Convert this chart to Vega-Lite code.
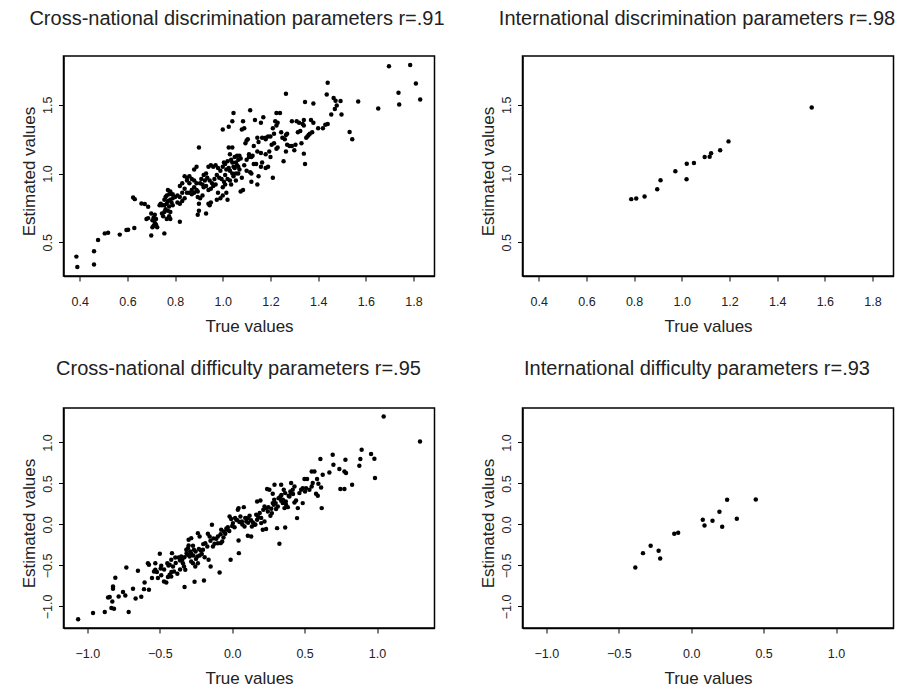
{
  "$schema": "https://vega.github.io/schema/vega-lite/v6.json",
  "background": "white",
  "padding": {"left": 19.5, "top": 8, "right": 0, "bottom": 0},
  "datasets": {
    "cross_disc": [
      {"truth":1.697,"est":1.78},{"truth":1.786,"est":1.79},{"truth":1.81,"est":1.655},{"truth":1.737,"est":1.587},{"truth":1.74,"est":1.502},{"truth":1.828,"est":1.539},{"truth":1.652,"est":1.473},{"truth":1.568,"est":1.524},{"truth":1.532,"est":1.302},{"truth":1.543,"est":1.249},{"truth":1.498,"est":1.43},{"truth":1.494,"est":1.527},{"truth":1.478,"est":1.495},{"truth":1.47,"est":1.47},{"truth":1.465,"est":1.55},{"truth":1.473,"est":1.53},{"truth":1.455,"est":1.43},{"truth":1.44,"est":1.66},{"truth":1.436,"est":1.575},{"truth":1.43,"est":1.355},{"truth":1.44,"est":1.36},{"truth":1.42,"est":1.33},{"truth":1.40,"est":1.33},
      {"truth":1.38,"est":1.51},{"truth":1.345,"est":1.52},{"truth":1.37,"est":1.39},{"truth":1.38,"est":1.37},{"truth":1.375,"est":1.30},{"truth":1.365,"est":1.29},{"truth":1.355,"est":1.27},{"truth":1.35,"est":1.26},{"truth":1.36,"est":1.28},{"truth":1.34,"est":1.39},{"truth":1.335,"est":1.36},{"truth":1.32,"est":1.37},{"truth":1.31,"est":1.38},{"truth":1.325,"est":1.31},{"truth":1.315,"est":1.30},{"truth":1.34,"est":1.35},{"truth":1.33,"est":1.22},{"truth":1.34,"est":1.145},{"truth":1.345,"est":1.07},{"truth":1.305,"est":1.21},{"truth":1.29,"est":1.38},{"truth":1.30,"est":1.17},{"truth":1.29,"est":1.20},{"truth":1.28,"est":1.20},{"truth":1.27,"est":1.21},
      {"truth":1.265,"est":1.58},{"truth":1.24,"est":1.44},{"truth":1.225,"est":1.44},{"truth":1.22,"est":1.38},{"truth":1.23,"est":1.37},{"truth":1.225,"est":1.35},{"truth":1.21,"est":1.33},{"truth":1.215,"est":1.29},{"truth":1.20,"est":1.27},{"truth":1.205,"est":1.21},{"truth":1.215,"est":1.22},{"truth":1.225,"est":1.18},{"truth":1.23,"est":1.19},{"truth":1.255,"est":1.09},{"truth":1.21,"est":0.97},{"truth":1.265,"est":1.28},{"truth":1.27,"est":1.29},{"truth":1.265,"est":1.16},{"truth":1.245,"est":1.30},{"truth":1.25,"est":1.26},{"truth":1.26,"est":1.25},{"truth":1.19,"est":1.27},{"truth":1.18,"est":1.26},
      {"truth":1.115,"est":1.46},{"truth":1.17,"est":1.41},{"truth":1.16,"est":1.37},{"truth":1.135,"est":1.39},{"truth":1.18,"est":1.25},{"truth":1.165,"est":1.26},{"truth":1.15,"est":1.23},{"truth":1.145,"est":1.26},{"truth":1.13,"est":1.20},{"truth":1.145,"est":1.16},{"truth":1.16,"est":1.15},{"truth":1.18,"est":1.14},{"truth":1.195,"est":1.16},{"truth":1.20,"est":1.12},{"truth":1.19,"est":1.05},{"truth":1.18,"est":1.04},{"truth":1.165,"est":1.08},{"truth":1.16,"est":1.05},{"truth":1.15,"est":0.98},{"truth":1.145,"est":0.92},{"truth":1.12,"est":0.94},{"truth":1.13,"est":1.07},{"truth":1.14,"est":1.07},{"truth":1.125,"est":1.13},{"truth":1.11,"est":1.14},{"truth":1.10,"est":1.24},{"truth":1.105,"est":1.25},{"truth":1.095,"est":1.22},{"truth":1.11,"est":1.12},{"truth":1.12,"est":1.12},{"truth":1.10,"est":1.10},{"truth":1.09,"est":1.06},{"truth":1.10,"est":1.02},{"truth":1.115,"est":1.01},{"truth":1.12,"est":1.00},
      {"truth":1.045,"est":1.44},{"truth":1.04,"est":1.38},{"truth":1.025,"est":1.34},{"truth":1.085,"est":1.38},{"truth":1.09,"est":1.33},{"truth":1.08,"est":1.32},{"truth":1.00,"est":1.32},{"truth":1.04,"est":1.19},{"truth":1.025,"est":1.19},{"truth":1.03,"est":1.14},{"truth":1.05,"est":1.12},{"truth":1.06,"est":1.13},{"truth":1.065,"est":1.10},{"truth":1.07,"est":1.13},{"truth":1.075,"est":1.11},{"truth":1.055,"est":1.08},{"truth":1.06,"est":1.06},{"truth":1.045,"est":1.05},{"truth":1.04,"est":1.08},{"truth":1.035,"est":1.10},{"truth":1.02,"est":1.09},{"truth":1.01,"est":1.07},{"truth":1.00,"est":1.05},{"truth":1.005,"est":1.08},{"truth":1.015,"est":1.03},{"truth":1.025,"est":1.04},{"truth":1.03,"est":1.02},{"truth":1.04,"est":1.00},{"truth":1.05,"est":1.04},{"truth":1.07,"est":1.03},{"truth":1.065,"est":1.00},{"truth":1.08,"est":0.97},{"truth":1.085,"est":0.88},{"truth":1.075,"est":0.87},{"truth":1.055,"est":0.95},{"truth":1.045,"est":0.98},{"truth":1.03,"est":0.95},{"truth":1.02,"est":0.96},{"truth":1.01,"est":0.92},{"truth":1.00,"est":0.90},{"truth":1.005,"est":0.94},{"truth":0.995,"est":0.96},{"truth":1.01,"est":0.99},{"truth":1.015,"est":0.86},{"truth":1.00,"est":0.84},{"truth":1.02,"est":0.81},{"truth":0.99,"est":0.82},{"truth":1.035,"est":0.92},{"truth":1.055,"est":1.00},{"truth":1.065,"est":1.05},
      {"truth":0.96,"est":1.05},{"truth":0.97,"est":1.06},{"truth":0.98,"est":1.04},{"truth":0.99,"est":1.02},{"truth":0.95,"est":1.06},{"truth":0.94,"est":1.05},{"truth":0.93,"est":1.00},{"truth":0.92,"est":0.99},{"truth":0.935,"est":0.97},{"truth":0.945,"est":0.95},{"truth":0.955,"est":0.93},{"truth":0.965,"est":0.96},{"truth":0.975,"est":0.99},{"truth":0.985,"est":0.97},{"truth":0.925,"est":0.95},{"truth":0.91,"est":0.96},{"truth":0.905,"est":0.93},{"truth":0.915,"est":0.92},{"truth":0.92,"est":0.90},{"truth":0.93,"est":0.91},{"truth":0.94,"est":0.88},{"truth":0.95,"est":0.89},{"truth":0.96,"est":0.91},{"truth":0.97,"est":0.92},{"truth":0.98,"est":0.86},{"truth":0.975,"est":0.81},{"truth":0.95,"est":0.79},{"truth":0.945,"est":0.77},{"truth":0.94,"est":0.78},{"truth":0.93,"est":0.71},{"truth":0.90,"est":0.73},{"truth":0.895,"est":0.70},{"truth":0.915,"est":0.84},{"truth":0.905,"est":0.82},{"truth":0.90,"est":0.78},{"truth":0.895,"est":0.83},{"truth":0.90,"est":1.19},
      {"truth":0.88,"est":1.03},{"truth":0.89,"est":1.05},{"truth":0.86,"est":0.98},{"truth":0.85,"est":0.97},{"truth":0.84,"est":0.98},{"truth":0.87,"est":0.96},{"truth":0.88,"est":0.95},{"truth":0.89,"est":0.93},{"truth":0.86,"est":0.93},{"truth":0.85,"est":0.95},{"truth":0.83,"est":0.93},{"truth":0.82,"est":0.91},{"truth":0.84,"est":0.89},{"truth":0.87,"est":0.88},{"truth":0.88,"est":0.86},{"truth":0.89,"est":0.88},{"truth":0.86,"est":0.86},{"truth":0.85,"est":0.86},{"truth":0.83,"est":0.86},{"truth":0.82,"est":0.83},{"truth":0.81,"est":0.84},{"truth":0.80,"est":0.83},{"truth":0.81,"est":0.79},{"truth":0.82,"est":0.78},{"truth":0.83,"est":0.80},{"truth":0.84,"est":0.82},{"truth":0.82,"est":0.65},{"truth":0.87,"est":0.85},{"truth":0.88,"est":0.90},{"truth":0.895,"est":0.87},
      {"truth":0.79,"est":0.85},{"truth":0.78,"est":0.87},{"truth":0.77,"est":0.88},{"truth":0.775,"est":0.85},{"truth":0.765,"est":0.84},{"truth":0.76,"est":0.83},{"truth":0.755,"est":0.81},{"truth":0.77,"est":0.80},{"truth":0.78,"est":0.81},{"truth":0.79,"est":0.82},{"truth":0.785,"est":0.79},{"truth":0.79,"est":0.77},{"truth":0.775,"est":0.76},{"truth":0.765,"est":0.78},{"truth":0.755,"est":0.77},{"truth":0.745,"est":0.77},{"truth":0.74,"est":0.78},{"truth":0.735,"est":0.77},{"truth":0.76,"est":0.74},{"truth":0.77,"est":0.73},{"truth":0.78,"est":0.72},{"truth":0.775,"est":0.69},{"truth":0.765,"est":0.67},{"truth":0.755,"est":0.72},{"truth":0.745,"est":0.71},{"truth":0.75,"est":0.69},{"truth":0.715,"est":0.70},{"truth":0.71,"est":0.68},{"truth":0.72,"est":0.67},{"truth":0.705,"est":0.66},{"truth":0.70,"est":0.71},{"truth":0.715,"est":0.64},{"truth":0.71,"est":0.62},{"truth":0.705,"est":0.61},{"truth":0.72,"est":0.63},{"truth":0.725,"est":0.61},{"truth":0.70,"est":0.55},{"truth":0.755,"est":0.565},{"truth":0.78,"est":0.67},
      {"truth":0.687,"est":0.758},{"truth":0.68,"est":0.669},{"truth":0.687,"est":0.676},{"truth":0.673,"est":0.778},{"truth":0.659,"est":0.783},{"truth":0.631,"est":0.814},{"truth":0.624,"est":0.826},{"truth":0.629,"est":0.604},{"truth":0.603,"est":0.592},{"truth":0.596,"est":0.589},{"truth":0.568,"est":0.556},{"truth":0.519,"est":0.57},{"truth":0.505,"est":0.565},{"truth":0.477,"est":0.517},{"truth":0.46,"est":0.435},{"truth":0.46,"est":0.338},{"truth":0.386,"est":0.396},{"truth":0.39,"est":0.32}
    ],
    "intl_disc": [
      {"truth":0.788,"est":0.814},{"truth":0.809,"est":0.819},{"truth":0.844,"est":0.833},{"truth":0.897,"est":0.886},{"truth":0.911,"est":0.952},{"truth":0.973,"est":1.017},{"truth":1.02,"est":0.959},{"truth":1.021,"est":1.072},{"truth":1.051,"est":1.077},{"truth":1.096,"est":1.121},{"truth":1.117,"est":1.123},{"truth":1.123,"est":1.147},{"truth":1.161,"est":1.169},{"truth":1.196,"est":1.234},{"truth":1.545,"est":1.481}
    ],
    "cross_diff": [
      {"truth":-1.064,"est":-1.155},{"truth":-0.961,"est":-1.081},{"truth":-0.88,"est":-1.069},{"truth":-0.857,"est":-0.89},{"truth":-0.846,"est":-0.886},{"truth":-0.834,"est":-1.02},{"truth":-0.816,"est":-1.028},{"truth":-0.828,"est":-0.939},{"truth":-0.823,"est":-0.756},{"truth":-0.823,"est":-0.785},{"truth":-0.807,"est":-0.65},{"truth":-0.784,"est":-0.878},{"truth":-0.754,"est":-0.825},{"truth":-0.738,"est":-0.866},{"truth":-0.731,"est":-0.524},{"truth":-0.715,"est":-1.069},{"truth":-0.685,"est":-0.785},{"truth":-0.667,"est":-0.902},{"truth":-0.651,"est":-0.565},{"truth":-0.628,"est":-0.882},{"truth":-0.609,"est":-0.789},{"truth":-0.605,"est":-0.707},{"truth":-0.575,"est":-0.797},{"truth":-0.582,"est":-0.472},{"truth":-0.575,"est":-0.492},{"truth":-0.554,"est":-0.654},{"truth":-0.54,"est":-0.573},{"truth":-0.531,"est":-0.553},{"truth":-0.531,"est":-0.472},{"truth":-0.513,"est":-0.654},{"truth":-0.5,"est":-0.358},{"truth":-0.494,"est":-0.537},{"truth":-0.49,"est":-0.504},{"truth":-0.471,"est":-0.695},{"truth":-0.455,"est":-0.707},{"truth":-0.444,"est":-0.642},{"truth":-0.432,"est":-0.614},{"truth":-0.421,"est":-0.634},{"truth":-0.448,"est":-0.472},{"truth":-0.432,"est":-0.492},{"truth":-0.421,"est":-0.431},{"truth":-0.416,"est":-0.35},{"truth":-0.409,"est":-0.512},{"truth":-0.402,"est":-0.573},{"truth":-0.393,"est":-0.402},{"truth":-0.379,"est":-0.602},{"truth":-0.37,"est":-0.402},{"truth":-0.352,"est":-0.39},{"truth":-0.34,"est":-0.472},{"truth":-0.333,"est":-0.512},{"truth":-0.329,"est":-0.764},{"truth":-0.324,"est":-0.553},{"truth":-0.317,"est":-0.309},{"truth":-0.306,"est":-0.289},{"truth":-0.301,"est":-0.256},{"truth":-0.31,"est":-0.37},{"truth":-0.294,"est":-0.39},{"truth":-0.283,"est":-0.358},{"truth":-0.301,"est":-0.187},{"truth":-0.283,"est":-0.167},{"truth":-0.271,"est":-0.26},{"truth":-0.264,"est":-0.309},{"truth":-0.253,"est":-0.329},{"truth":-0.283,"est":-0.451},{"truth":-0.271,"est":-0.472},{"truth":-0.26,"est":-0.699},{"truth":-0.255,"est":-0.512},{"truth":-0.237,"est":-0.472},{"truth":-0.241,"est":-0.39},{"truth":-0.225,"est":-0.378},{"truth":-0.218,"est":-0.317},{"truth":-0.202,"est":-0.309},{"truth":-0.237,"est":-0.106},{"truth":-0.225,"est":-0.146},{"truth":-0.195,"est":-0.683},{"truth":-0.186,"est":-0.228},{"truth":-0.172,"est":-0.268},{"truth":-0.168,"est":-0.114},{"truth":-0.156,"est":-0.146},{"truth":-0.163,"est":-0.431},{"truth":-0.149,"est":-0.512},{"truth":-0.14,"est":-0.004},{"truth":-0.133,"est":-0.268},{"truth":-0.122,"est":-0.236},{"truth":-0.11,"est":-0.175},{"truth":-0.099,"est":-0.146},{"truth":-0.087,"est":-0.585},{"truth":-0.08,"est":-0.228},{"truth":-0.069,"est":-0.207},{"truth":-0.076,"est":-0.065},{"truth":-0.057,"est":-0.085},{"truth":-0.048,"est":-0.114},{"truth":-0.034,"est":-0.065},{"truth":-0.03,"est":-0.033},{"truth":-0.011,"est":-0.431},{"truth":-0.018,"est":0.098},{"truth":-0.007,"est":0.065},{"truth":0.005,"est":0.016},{"truth":0.016,"est":-0.033},{"truth":0.028,"est":0.057},{"truth":0.039,"est":0.179},{"truth":0.044,"est":0.199},{"truth":0.044,"est":-0.195},{"truth":0.046,"est":-0.35},{"truth":0.057,"est":0.098},{"truth":0.067,"est":0.037},{"truth":0.08,"est":0.211},{"truth":0.085,"est":-0.024},{"truth":0.097,"est":0.037},{"truth":0.108,"est":0.077},{"truth":0.12,"est":0.106},{"truth":0.108,"est":-0.138},{"truth":0.131,"est":-0.146},{"truth":0.136,"est":-0.024},{"truth":0.143,"est":0.024},{"truth":0.154,"est":-0.004},{"truth":0.166,"est":0.118},{"truth":0.172,"est":0.057},{"truth":0.172,"est":0.28},{"truth":0.195,"est":0.293},{"truth":0.2,"est":0.016},{"truth":0.223,"est":0.037},{"truth":0.211,"est":-0.065},{"truth":0.234,"est":-0.057},{"truth":0.223,"est":0.22},{"truth":0.234,"est":0.199},{"truth":0.246,"est":0.159},{"truth":0.241,"est":0.431},{"truth":0.257,"est":0.423},{"truth":0.264,"est":0.106},{"truth":0.274,"est":0.138},{"truth":0.28,"est":0.26},{"truth":0.287,"est":0.24},{"truth":0.28,"est":0.374},{"truth":0.292,"est":0.484},{"truth":0.303,"est":0.187},{"truth":0.315,"est":0.22},{"truth":0.31,"est":-0.045},{"truth":0.326,"est":-0.236},{"truth":0.333,"est":0.341},{"truth":0.338,"est":0.289},{"truth":0.349,"est":0.26},{"truth":0.338,"est":0.484},{"truth":0.356,"est":0.423},{"truth":0.366,"est":0.382},{"truth":0.361,"est":0.199},{"truth":0.372,"est":0.24},{"truth":0.384,"est":0.211},{"truth":0.366,"est":-0.037},{"truth":0.395,"est":0.341},{"truth":0.402,"est":0.402},{"truth":0.407,"est":0.382},{"truth":0.407,"est":0.504},{"truth":0.418,"est":0.423},{"truth":0.43,"est":0.463},{"truth":0.43,"est":0.268},{"truth":0.441,"est":0.293},{"truth":0.448,"est":0.077},{"truth":0.453,"est":0.199},{"truth":0.464,"est":0.382},{"truth":0.476,"est":0.423},{"truth":0.487,"est":0.443},{"truth":0.487,"est":0.26},{"truth":0.503,"est":0.402},{"truth":0.51,"est":0.443},{"truth":0.499,"est":0.553},{"truth":0.517,"est":0.553},{"truth":0.533,"est":0.423},{"truth":0.549,"est":0.463},{"truth":0.556,"est":0.504},{"truth":0.549,"est":0.646},{"truth":0.568,"est":0.646},{"truth":0.579,"est":0.374},{"truth":0.591,"est":0.35},{"truth":0.586,"est":0.553},{"truth":0.595,"est":0.496},{"truth":0.609,"est":0.797},{"truth":0.614,"est":0.451},{"truth":0.618,"est":0.199},{"truth":0.625,"est":0.606},{"truth":0.671,"est":0.634},{"truth":0.694,"est":0.85},{"truth":0.699,"est":0.728},{"truth":0.74,"est":0.675},{"truth":0.747,"est":0.431},{"truth":0.775,"est":0.431},{"truth":0.775,"est":0.646},{"truth":0.786,"est":0.626},{"truth":0.782,"est":0.789},{"truth":0.828,"est":0.484},{"truth":0.878,"est":0.715},{"truth":0.885,"est":0.797},{"truth":0.894,"est":0.911},{"truth":0.959,"est":0.858},{"truth":0.982,"est":0.801},{"truth":0.986,"est":0.565},{"truth":1.046,"est":1.317},{"truth":1.297,"est":1.012},
      {"truth":-0.345,"est":-0.43},{"truth":-0.33,"est":-0.40},{"truth":-0.315,"est":-0.35},{"truth":-0.29,"est":-0.33},{"truth":-0.27,"est":-0.38},{"truth":-0.25,"est":-0.42},{"truth":-0.23,"est":-0.30},{"truth":-0.21,"est":-0.36},{"truth":-0.19,"est":-0.40},{"truth":-0.20,"est":-0.24},{"truth":-0.15,"est":-0.20},{"truth":-0.13,"est":-0.17},{"truth":-0.10,"est":-0.23},{"truth":-0.08,"est":-0.12},{"truth":-0.06,"est":-0.16},{"truth":-0.04,"est":-0.05},{"truth":-0.02,"est":-0.08},{"truth":0.0,"est":-0.02},{"truth":0.02,"est":0.08},{"truth":0.035,"est":0.05},{"truth":0.05,"est":0.03},{"truth":0.07,"est":0.0},{"truth":0.09,"est":0.08},{"truth":0.11,"est":0.02},{"truth":0.13,"est":0.05},{"truth":0.16,"est":0.0},{"truth":0.18,"est":0.09},{"truth":0.19,"est":0.14},{"truth":0.20,"est":0.08},{"truth":0.215,"est":0.18},{"truth":0.25,"est":0.21},{"truth":0.27,"est":0.19},{"truth":0.29,"est":0.30},{"truth":0.30,"est":0.26},{"truth":0.32,"est":0.32},{"truth":0.34,"est":0.36},{"truth":0.35,"est":0.30},{"truth":0.37,"est":0.28},{"truth":0.39,"est":0.35},{"truth":0.42,"est":0.37},{"truth":-0.52,"est":-0.58},{"truth":-0.49,"est":-0.62},{"truth":-0.47,"est":-0.55},{"truth":-0.44,"est":-0.50},{"truth":-0.42,"est":-0.58},{"truth":-0.39,"est":-0.47},{"truth":-0.36,"est":-0.44},{"truth":-0.36,"est":-0.55}
    ],
    "intl_diff": [
      {"truth":-0.386,"est":-0.524},{"truth":-0.333,"est":-0.35},{"truth":-0.28,"est":-0.26},{"truth":-0.225,"est":-0.321},{"truth":-0.214,"est":-0.415},{"truth":-0.117,"est":-0.114},{"truth":-0.09,"est":-0.102},{"truth":0.08,"est":0.057},{"truth":0.092,"est":-0.012},{"truth":0.147,"est":0.045},{"truth":0.195,"est":0.154},{"truth":0.214,"est":-0.028},{"truth":0.248,"est":0.301},{"truth":0.315,"est":0.069},{"truth":0.446,"est":0.305}
    ]
  },
  "concat": [
    {
      "title": {"text": "Cross-national discrimination parameters r=.91", "offset": 27, "dx": -12},
      "width": 371, "height": 220,
      "data": {"name": "cross_disc"},
      "mark": {"type": "circle", "size": 20, "color": "black", "opacity": 1},
      "encoding": {
        "x": {"field": "truth", "type": "quantitative", "scale": {"domain": [0.332, 1.888], "nice": false, "zero": false}, "axis": {"values": [0.4, 0.6, 0.8, 1.0, 1.2, 1.4, 1.6, 1.8], "format": ".1f", "title": "True values"}},
        "y": {"field": "est", "type": "quantitative", "scale": {"domain": [0.255, 1.855], "nice": false, "zero": false}, "axis": {"values": [0.5, 1.0, 1.5], "format": ".1f", "title": "Estimated values"}}
      }
    },
    {
      "title": {"text": "International discrimination parameters r=.98", "offset": 27, "dx": -11},
      "width": 371, "height": 220,
      "data": {"name": "intl_disc"},
      "mark": {"type": "circle", "size": 20, "color": "black", "opacity": 1},
      "encoding": {
        "x": {"field": "truth", "type": "quantitative", "scale": {"domain": [0.332, 1.888], "nice": false, "zero": false}, "axis": {"values": [0.4, 0.6, 0.8, 1.0, 1.2, 1.4, 1.6, 1.8], "format": ".1f", "title": "True values"}},
        "y": {"field": "est", "type": "quantitative", "scale": {"domain": [0.255, 1.855], "nice": false, "zero": false}, "axis": {"values": [0.5, 1.0, 1.5], "format": ".1f", "title": "Estimated values"}}
      }
    },
    {
      "title": {"text": "Cross-national difficulty parameters r=.95", "offset": 29, "dx": -10.5},
      "width": 371, "height": 220,
      "data": {"name": "cross_diff"},
      "mark": {"type": "circle", "size": 20, "color": "black", "opacity": 1},
      "encoding": {
        "x": {"field": "truth", "type": "quantitative", "scale": {"domain": [-1.165, 1.397], "nice": false, "zero": false}, "axis": {"values": [-1.0, -0.5, 0.0, 0.5, 1.0], "format": ".1f", "title": "True values"}},
        "y": {"field": "est", "type": "quantitative", "scale": {"domain": [-1.263, 1.42], "nice": false, "zero": false}, "axis": {"values": [-1.0, -0.5, 0.0, 0.5, 1.0], "format": ".1f", "title": "Estimated values"}}
      }
    },
    {
      "title": {"text": "International difficulty parameters r=.93", "offset": 29, "dx": -11},
      "width": 371, "height": 220,
      "data": {"name": "intl_diff"},
      "mark": {"type": "circle", "size": 20, "color": "black", "opacity": 1},
      "encoding": {
        "x": {"field": "truth", "type": "quantitative", "scale": {"domain": [-1.165, 1.397], "nice": false, "zero": false}, "axis": {"values": [-1.0, -0.5, 0.0, 0.5, 1.0], "format": ".1f", "title": "True values"}},
        "y": {"field": "est", "type": "quantitative", "scale": {"domain": [-1.263, 1.42], "nice": false, "zero": false}, "axis": {"values": [-1.0, -0.5, 0.0, 0.5, 1.0], "format": ".1f", "title": "Estimated values"}}
      }
    }
  ],
  "columns": 2,
  "spacing": {"row": 132, "column": 88},
  "bounds": "flush",
  "config": {
    "font": "Liberation Sans",
    "view": {"stroke": "black", "strokeWidth": 1.5},
    "title": {"font": "Liberation Sans", "fontSize": 20, "fontWeight": "normal", "color": "#222", "anchor": "middle", "frame": "group", "baseline": "alphabetic"},
    "axis": {"grid": false, "domain": true, "domainColor": "black", "domainWidth": 1.5, "tickColor": "black", "tickSize": 5, "tickWidth": 1, "labelColor": "#222", "labelFont": "Liberation Sans", "labelFontSize": 12.5, "titleColor": "#222", "titleFont": "Liberation Sans", "titleFontSize": 17, "titleFontWeight": "normal", "labelFlush": false, "labelOverlap": false},
    "axisX": {"labelAngle": 0, "labelAlign": "center", "labelBaseline": "alphabetic", "labelPadding": 24, "titleBaseline": "alphabetic", "titleAlign": "center", "titleY": 55.5},
    "axisY": {"labelAngle": 270, "labelAlign": "center", "labelBaseline": "alphabetic", "labelPadding": 7.5, "titleAngle": 270, "titleAlign": "center", "titleBaseline": "alphabetic", "titleX": -29, "titleY": 115}
  }
}
